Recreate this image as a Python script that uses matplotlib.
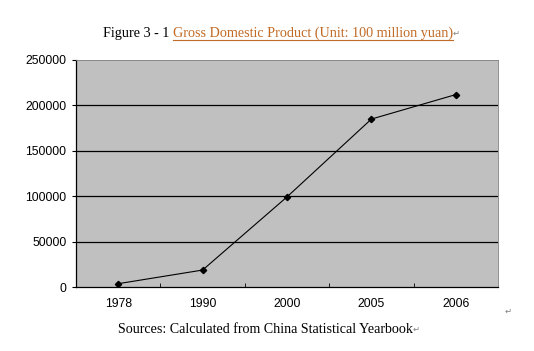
import matplotlib
matplotlib.use("Agg")
import matplotlib.pyplot as plt
from matplotlib.lines import Line2D

years = ["1978", "1990", "2000", "2005", "2006"]
gdp = [3645, 18668, 99215, 184937, 211924]
y_ticks = [0, 50000, 100000, 150000, 200000, 250000]

W, H = 534, 351
fig = plt.figure(figsize=(W / 100, H / 100), dpi=100)
fig.patch.set_facecolor("white")

ax = fig.add_axes([76 / W, 1 - 287 / H, 422 / W, 227 / H])
ax.set_facecolor("#c0c0c0")

x = range(len(years))
ax.plot(x, gdp, color="black", lw=0.8, marker="D", markersize=3.2,
        markerfacecolor="black", zorder=3)

ax.set_xlim(-0.5, len(years) - 0.5)
ax.set_ylim(0, 250000)
ax.set_yticks(y_ticks)
ax.set_yticklabels([str(v) for v in y_ticks], fontfamily="Liberation Sans", fontsize=8.8)
for v in y_ticks[1:-1]:
    ax.axhline(v, color="black", lw=0.9, zorder=1)

ax.set_xticks(list(x))
ax.set_xticklabels(years, fontfamily="Liberation Sans", fontsize=8.8)
ax.tick_params(axis="x", length=0, pad=8)
ax.set_xticks([i + 0.5 for i in range(len(years) - 1)], minor=True)
ax.tick_params(axis="x", which="minor", direction="in", length=3, color="black")
ax.tick_params(axis="y", length=3, width=0.8, pad=4)

ax.spines["left"].set_color("black")
ax.spines["bottom"].set_color("black")
ax.spines["left"].set_linewidth(0.9)
ax.spines["bottom"].set_linewidth(0.9)
ax.spines["top"].set_color("#808080")
ax.spines["right"].set_color("#808080")
ax.spines["top"].set_linewidth(0.6)
ax.spines["right"].set_linewidth(0.6)

# title assembled from pieces so the middle part can be orange and underlined
fig.canvas.draw()
renderer = fig.canvas.get_renderer()
serif = "Liberation Serif"
ty = 1 - 37 / H
t1 = fig.text(103 / W, ty, "Figure 3 - 1 ", fontfamily=serif, fontsize=10.2, color="black")
bb = t1.get_window_extent(renderer)
t2 = fig.text(bb.x1 / W, ty, "Gross Domestic Product (Unit: 100 million yuan)",
              fontfamily=serif, fontsize=10.2, color="#c26b26")
bb2 = t2.get_window_extent(renderer)
fig.add_artist(Line2D([bb2.x0 / W, bb2.x1 / W], [ty - 2.5 / H, ty - 2.5 / H],
                      color="#c26b26", lw=0.8))
fig.text(bb2.x1 / W, ty + 1 / H, "\u21b5", fontfamily="DejaVu Sans", fontsize=6, color="#808080")

sy = 1 - 333 / H
s1 = fig.text(118 / W, sy, "Sources: Calculated from China Statistical Yearbook",
              fontfamily=serif, fontsize=10.1, color="black")
sb = s1.get_window_extent(renderer)
fig.text(sb.x1 / W, sy + 1 / H, "\u21b5", fontfamily="DejaVu Sans", fontsize=6, color="#808080")
fig.text(505 / W, 1 - 314 / H, "\u21b5", fontfamily="DejaVu Sans", fontsize=6, color="#808080")

fig.savefig("out.png", dpi=100)
